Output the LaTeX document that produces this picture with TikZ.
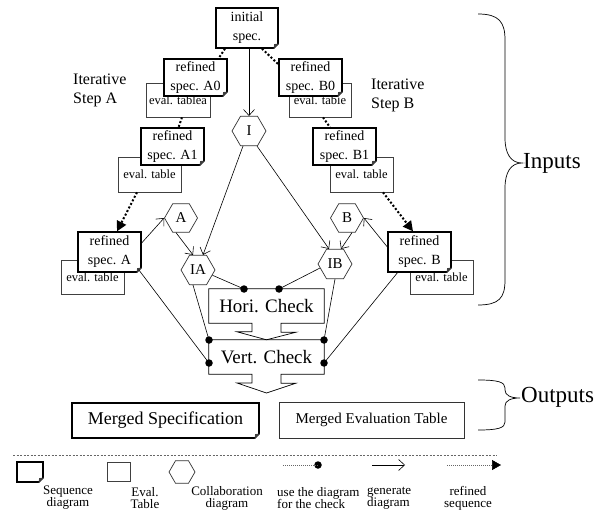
\documentclass[tikz,border=0pt]{standalone}
\usepackage{fontspec}
\setmainfont{Liberation Serif}
\usetikzlibrary{arrows.meta,shapes.geometric,calc}
\newcommand\setfs[2]{\fontsize{#1}{#2}\selectfont}
\newcommand\dogear[1]{%
  \fill[white] ([xshift=-5.6pt,yshift=-1pt]#1.south east) -- ([xshift=1pt,yshift=-1pt]#1.south east) -- ([xshift=1pt,yshift=5.6pt]#1.south east) -- cycle;
  \draw[line width=0.9pt] ([xshift=-5pt]#1.south east) -- ([yshift=5pt]#1.south east);
  \fill[black!75] ([xshift=-5pt]#1.south east) -- ([yshift=5pt]#1.south east) -- ([xshift=-4.5pt,yshift=4.5pt]#1.south east) -- cycle;
}
\tikzset{
  seqbox/.style={draw, line width=1.3pt, fill=white, rectangle, inner sep=0pt, align=center, font=\setfs{14}{19}},
  evalbox/.style={draw=black!75, line width=0.7pt, fill=white, rectangle, inner sep=0pt, align=center, font=\setfs{12.5}{14}},
  hexa/.style={draw=black!80, line width=0.7pt, fill=white, regular polygon, regular polygon sides=6, inner sep=0pt, minimum size=34pt, font=\setfs{15}{16}},
  gen/.style={line width=0.6pt, -{Straight Barb[length=6pt,width=11pt,line width=0.6pt]}},
  use/.style={line width=0.6pt},
  refine/.style={line width=2pt, dash pattern=on 2pt off 2pt},
  refarrow/.style={refine, -{Triangle[length=10pt,width=10pt]}},
  dotn/.style={circle, fill, inner sep=0pt, minimum size=7.5pt},
  legtext/.style={font=\setfs{13}{12}, inner sep=0pt},
  checkbox/.style={inner sep=0pt, minimum width=115pt, minimum height=34pt, font=\setfs{19}{20}},
}
\begin{document}
\begin{tikzpicture}[x=1pt,y=-1pt]
\useasboundingbox (0,0) rectangle (609,510);
\fill[white] (0,0) rectangle (609,510);

% ---- iterative labels
\node[anchor=west, align=left, font=\setfs{16}{19}, inner sep=0pt] (itA) at (73,90.5) {Iterative\\Step A};
\node[anchor=west, align=left, font=\setfs{16}{19}, inner sep=0pt] (itB) at (371,95) {Iterative\\Step B};

% ---- eval tables
\node[evalbox, minimum width=64pt, minimum height=34pt] (a0e) at (178,100) {eval. tablea};
\node[evalbox, minimum width=62pt, minimum height=34pt] (b0e) at (320,100) {eval. table};
\node[evalbox, minimum width=63pt, minimum height=35pt] (a1e) at (149.5,174.5) {eval. table};
\node[evalbox, minimum width=63pt, minimum height=35pt] (b1e) at (361.5,174.5) {eval. table};
\node[evalbox, minimum width=63pt, minimum height=34pt] (ae) at (92.5,277) {eval. table};
\node[evalbox, minimum width=63pt, minimum height=34pt] (be) at (441.5,277) {eval. table};

% ---- sequence diagrams
\node[seqbox, minimum width=62pt, minimum height=40pt] (init) at (247,28) {initial\\spec.};
\node[seqbox, minimum width=63pt, minimum height=37pt] (a0) at (195.5,77.5) {refined\\spec. A0};
\node[seqbox, minimum width=63pt, minimum height=37pt] (b0) at (310.5,77.5) {refined\\spec. B0};
\node[seqbox, minimum width=63pt, minimum height=37pt] (a1) at (172.5,146.5) {refined\\spec. A1};
\node[seqbox, minimum width=63pt, minimum height=37pt] (b1) at (344.5,146.5) {refined\\spec. B1};
\node[seqbox, minimum width=63pt, minimum height=40pt] (as) at (109.5,252) {refined\\spec. A};
\node[seqbox, minimum width=63pt, minimum height=40pt] (bs) at (419.5,252) {refined\\spec. B};
\foreach \n in {init,a0,b0,a1,b1,as,bs} {\dogear{\n}}

% ---- collaboration diagrams
\node[hexa] (hexI) at (249,131) {I};
\node[hexa, minimum size=33pt] (hexA) at (181,218) {A};
\node[hexa, minimum size=33pt] (hexB) at (347,218) {B};
\node[hexa] (hexIA) at (198,270) {IA};
\node[hexa] (hexIB) at (335,264) {IB};

% ---- checks
\node[checkbox] (hori) at (266.5,306) {Hori. Check};
\node[checkbox] (vert) at (266.5,357) {Vert. Check};
\coordinate (vtip) at (266.5,393);
\draw[line width=0.7pt] (hori.north west) -- (hori.north east) -- (hori.south east) -- ([xshift=14.5pt]hori.south) -- ++(0,9) -- ++(15,0) -- (vert.north) -- ++(-29.5,-8) -- ++(15,0) -- ([xshift=-14.5pt]hori.south) -- (hori.south west) -- cycle;
\draw[line width=0.7pt] (vert.north west) -- (vert.north east) -- (vert.south east) -- ([xshift=14.5pt]vert.south) -- ++(0,9) -- ++(15,0) -- (vtip) -- ++(-29.5,-10) -- ++(15,0) -- ([xshift=-14.5pt]vert.south) -- (vert.south west) -- cycle;

% ---- refinement (dotted)
\draw[refine] ([xshift=-22pt]init.south) -- ([xshift=-9pt]a0.north east);
\draw[refine] ([xshift=15pt]init.south) -- ([yshift=-6pt]b0.north west);
\draw[refine] ([xshift=4pt]a0e.south) -- ([xshift=6pt]a1.north);
\draw[refine] ([xshift=3pt]b0e.south) -- ([xshift=-14.5pt]b1.north);
\draw[refarrow] ([xshift=-12.5pt]a1e.south) -- ([xshift=7.5pt]as.north);
\draw[refarrow] ([xshift=21.5pt]b1e.south) -- ([xshift=-6.5pt]bs.north);

% ---- generate arrows
\draw[gen] (init.south -| hexI.north) -- (hexI.north);
\draw[gen] ([yshift=9pt]as.east) -- (hexA.west);
\draw[gen] ([xshift=-5pt]hexA.south) -- ([xshift=-5pt]hexIA.north);
\draw[gen] ([xshift=-6pt]hexI.south) -- ([xshift=5pt]hexIA.north);
\draw[gen] ([xshift=8pt]hexI.south) -- ([xshift=-6pt]hexIB.north);
\draw[gen] ([yshift=5pt]bs.west) -- (hexB.east);
\draw[gen] ([xshift=5pt]hexB.south) -- ([xshift=6pt]hexIB.north);

% ---- use for check
\node[dotn] (dh1) at (244,289) {};
\node[dotn] (dh2) at (279,289) {};
\node[dotn] (dv1) at (209,340) {};
\node[dotn] (dv2) at (324,340) {};
\node[dotn] (dv3) at (209,363) {};
\node[dotn] (dv4) at (324,363) {};
\draw[use] (hexIA.-20) -- (dh1.center);
\draw[use] (hexIB.195) -- (dh2.center);
\draw[use] ([xshift=-5pt]hexIA.south) -- (dv1.center);
\draw[use] (hexIB.south) -- (dv2.center);
\draw[use] ([xshift=-3pt,yshift=3pt]as.south east) -- (dv3.center);
\draw[use] ([xshift=-22pt]bs.south) -- (dv4.center);

% ---- outputs
\node[seqbox, minimum width=187pt, minimum height=35pt, font=\setfs{18}{20}] (mspec) at (165.5,420.5) {Merged Specification};
\dogear{mspec}
\node[evalbox, draw=black!80, minimum width=185pt, minimum height=36pt, font=\setfs{15}{16}] (meval) at (371.5,420) {Merged Evaluation Table};

% ---- braces
\draw[line width=0.7pt] (478,14) .. controls (499,14) and (505,22) .. (505,40) -- (505,138) .. controls (505,154) and (511,163) .. (522,163) .. controls (511,163) and (505,172) .. (505,188) -- (505,280) .. controls (505,298) and (499,305) .. (478,305);
\node[anchor=west, font=\setfs{23}{24}, inner sep=0pt] (inputs) at (523,163) {Inputs};
\draw[line width=0.7pt] (478,380) .. controls (498,380) and (505,382) .. (505,388) -- (505,390) .. controls (505,395) and (510,398) .. (520,398) .. controls (510,398) and (505,401) .. (505,406) -- (505,422) .. controls (505,428) and (498,430) .. (478,430);
\node[anchor=west, font=\setfs{23}{24}, inner sep=0pt] (outputs) at (521,397) {Outputs};

% ---- legend
\draw[black!60, line width=0.5pt, dash pattern=on 2pt off 1.5pt] (13,455) -- (497,455);
\node[seqbox, minimum width=26pt, minimum height=20pt] (lseq) at (30,472) {};
\dogear{lseq}
\node[legtext, align=center] (tseq) at (68,498) {Sequence\\diagram};
\node[evalbox, minimum width=23pt, minimum height=19pt] (leval) at (118.5,471.5) {};
\node[legtext, align=center] (teval) at (145,498) {Eval.\\Table};
\node[hexa, minimum size=26pt] (lhex) at (182,472) {};
\node[legtext, align=center] (thex) at (227,498) {Collaboration\\diagram};
\coordinate (lu1) at (283,465);
\node[dotn] (lu2) at (318,465) {};
\draw[black!60, line width=0.5pt, dash pattern=on 1pt off 1pt] (lu1) -- (lu2.center);
\node[legtext, align=left, anchor=west] (tuse) at (277,498) {use the diagram\\for the check};
\coordinate (lg1) at (372,465);
\coordinate (lg2) at (405,465);
\draw[gen] (lg1) -- (lg2);
\node[legtext, align=left, anchor=west] (tgen) at (367,498) {generate\\diagram};
\coordinate (lr1) at (447,465);
\coordinate (lr2) at (501,465);
\draw[black!60, line width=0.5pt, dash pattern=on 1pt off 1pt, -{Triangle[length=9pt,width=10pt,black]}] (lr1) -- (lr2);
\node[legtext, align=center] (tref) at (468,498) {refined\\sequence};
\end{tikzpicture}
\end{document}
